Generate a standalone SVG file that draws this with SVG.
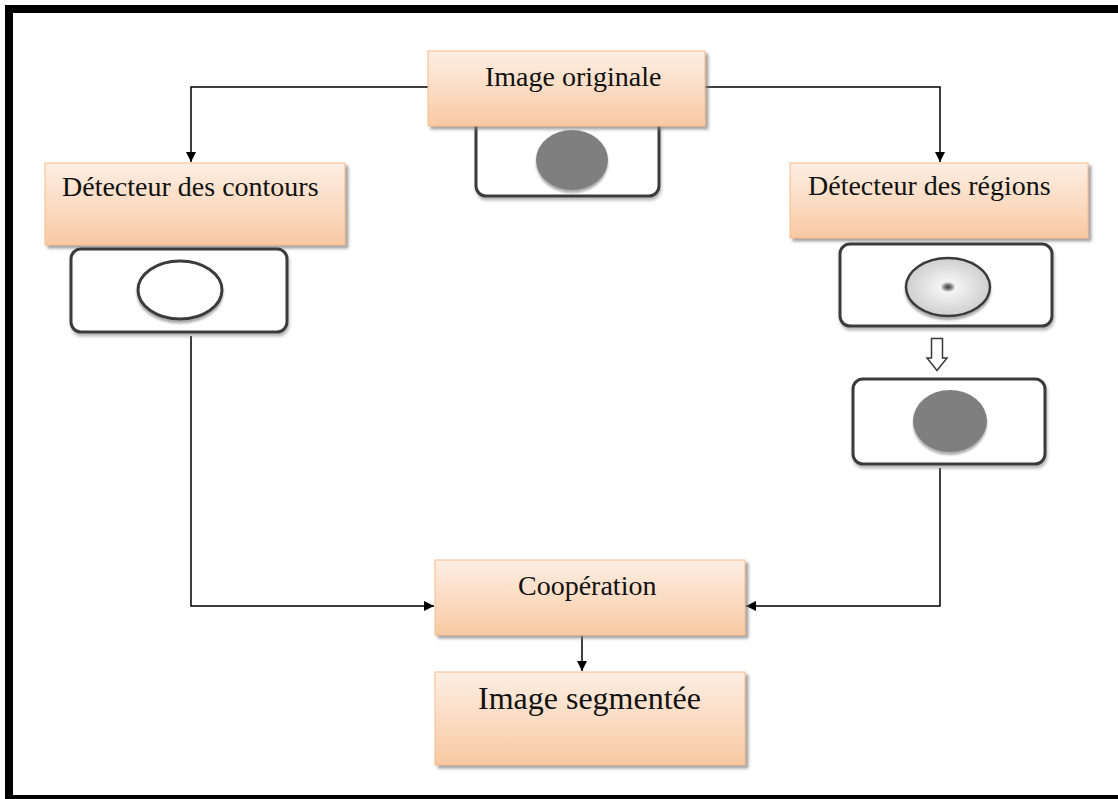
<svg xmlns="http://www.w3.org/2000/svg" width="1118" height="799" viewBox="0 0 1118 799">
  <style>
    .box { fill: url(#peach); stroke: #f7bc8c; stroke-width: 1; filter: url(#shadow); }
    .pic { fill: #ffffff; stroke: #3a3a3a; stroke-width: 3; filter: url(#picshadow); }
    .label { font-family: "Liberation Serif", "Times New Roman", serif; font-size: 28px; fill: #111111; }
    .link { fill: none; stroke: #000000; stroke-width: 1.5; }
  </style>
  <defs>
    <linearGradient id="peach" x1="0" y1="0" x2="0" y2="1">
      <stop offset="0" stop-color="#fdeee3"/>
      <stop offset="0.5" stop-color="#fbdcc4"/>
      <stop offset="1" stop-color="#f8c9a3"/>
    </linearGradient>
    <radialGradient id="region" cx="0.5" cy="0.5" r="0.5">
      <stop offset="0" stop-color="#404040"/>
      <stop offset="0.08" stop-color="#7a7a7a"/>
      <stop offset="0.18" stop-color="#f4f4f4"/>
      <stop offset="1" stop-color="#cfcfcf"/>
    </radialGradient>
    <filter id="shadow" x="-5%" y="-5%" width="115%" height="125%">
      <feDropShadow dx="3" dy="3" stdDeviation="1.5" flood-color="#7a7a7a" flood-opacity="0.7"/>
    </filter>
    <filter id="picshadow" x="-5%" y="-5%" width="115%" height="125%">
      <feDropShadow dx="1" dy="3" stdDeviation="1.5" flood-color="#8a8a8a" flood-opacity="0.6"/>
    </filter>
    <filter id="discshadow" x="-10%" y="-10%" width="120%" height="130%">
      <feDropShadow dx="0" dy="3" stdDeviation="1" flood-color="#9a9a9a" flood-opacity="0.8"/>
    </filter>
    <marker id="arrow" viewBox="0 0 10 10" refX="10" refY="5" markerWidth="10" markerHeight="10" markerUnits="userSpaceOnUse" orient="auto">
      <path d="M0,0 L10,5 L0,10 z" fill="#000000"/>
    </marker>
  </defs>

  <!-- outer frame -->
  <rect x="0" y="0" width="1118" height="799" fill="#ffffff"/>
  <rect x="5" y="5" width="8" height="794" fill="#000000"/>
  <rect x="5" y="5" width="1113" height="8" fill="#000000"/>
  <rect x="5" y="795" width="1113" height="4" fill="#000000"/>

  <!-- connectors -->
  <g id="connectors">
    <polyline class="link" points="428,87 191,87 191,162" marker-end="url(#arrow)"/>
    <polyline class="link" points="705,87 940,87 940,162" marker-end="url(#arrow)"/>
    <polyline class="link" points="191,336 191,606 434,606" marker-end="url(#arrow)"/>
    <polyline class="link" points="940,468 940,606 746,606" marker-end="url(#arrow)"/>
    <line class="link" x1="582" y1="636" x2="582" y2="671" marker-end="url(#arrow)"/>
    <path d="M931.5,338.5 H942.5 V358 H947 L937,370.5 L927,358 H931.5 Z" fill="#ffffff" stroke="#3a3a3a" stroke-width="1.5"/>
  </g>

  <!-- original image -->
  <g id="node-original">
    <rect class="pic" x="476" y="118" width="183" height="78" rx="10"/>
    <rect class="box" x="428" y="51" width="277" height="75"/>
    <text class="label" x="485" y="86">Image originale</text>
    <ellipse cx="572" cy="160" rx="36" ry="30" fill="#7f7f7f" filter="url(#discshadow)"/>
  </g>

  <!-- contour detector -->
  <g id="node-contours">
    <rect class="box" x="45" y="163" width="300" height="82"/>
    <text class="label" x="62" y="196">Détecteur des contours</text>
    <rect class="pic" x="71" y="249" width="216" height="83" rx="10"/>
    <ellipse cx="180" cy="290" rx="42" ry="29" fill="#ffffff" stroke="#3a3a3a" stroke-width="3" filter="url(#discshadow)"/>
  </g>

  <!-- region detector -->
  <g id="node-regions">
    <rect class="box" x="790" y="163" width="298" height="75"/>
    <text class="label" x="808" y="195">Détecteur des régions</text>
    <rect class="pic" x="840" y="244" width="212" height="82" rx="10"/>
    <ellipse cx="948" cy="287" rx="42" ry="29" fill="url(#region)" stroke="#3a3a3a" stroke-width="2.5" filter="url(#discshadow)"/>
    <rect class="pic" x="853" y="379" width="192" height="85" rx="10"/>
    <ellipse cx="950" cy="421" rx="37" ry="31" fill="#7f7f7f" filter="url(#discshadow)"/>
  </g>

  <!-- cooperation -->
  <g id="node-cooperation">
    <rect class="box" x="435" y="560" width="310" height="75"/>
    <text class="label" x="518" y="595">Coopération</text>
  </g>

  <!-- segmented image -->
  <g id="node-segmented">
    <rect class="box" x="435" y="672" width="310" height="93"/>
    <text class="label" x="478" y="709" style="font-size:32px">Image segmentée</text>
  </g>
</svg>
